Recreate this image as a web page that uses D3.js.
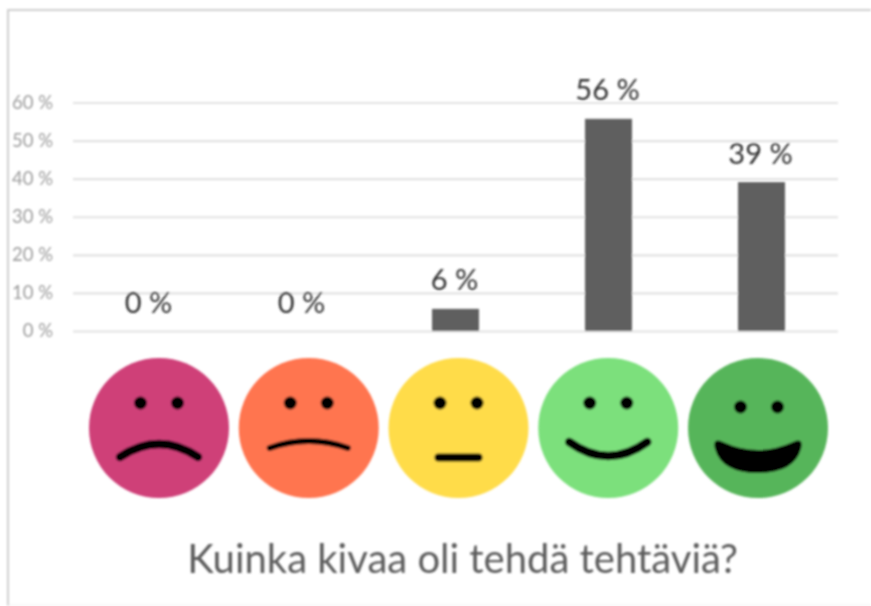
<!DOCTYPE html>
<html>
<head>
<meta charset="utf-8">
<script src="https://cdn.jsdelivr.net/npm/d3@7"></script>
<style>
  html, body { margin: 0; padding: 0; background: #fff; }
  svg { display: block; }
  text { font-family: Lato, "Open Sans", sans-serif; }
</style>
</head>
<body>
<div id="chart"></div>
<script>
// values
const categories = ["a", "b", "c", "d", "e"];
const values = [0, 0, 5.8, 55.7, 39.1];
const valueLabels = ["0 %", "0 %", "6 %", "56 %", "39 %"];
const yTicks = [0, 10, 20, 30, 40, 50, 60];
const faceColors = ["#cf3f78", "#ff7550", "#ffdc4a", "#7be07c", "#57b55a"];
const mouthBend = [-26, -14, 0, 28, 28];
const title = "Kuinka kivaa oli tehdä tehtäviä?";

const w = 871, h = 606;

const svg = d3.select("#chart").append("svg")
  .attr("width", w)
  .attr("height", h);

// the source is a soft, upscaled screenshot
const blur = svg.append("defs").append("filter").attr("id", "soft");
blur.append("feGaussianBlur").attr("stdDeviation", 0.8);

const g = svg.append("g").attr("filter", "url(#soft)");

// frame
g.append("path")
  .attr("d", "M8,606V10H871")
  .attr("fill", "none")
  .attr("stroke", "#cfcfcf")
  .attr("stroke-width", 2);
g.append("line")
  .attr("x1", 8).attr("x2", 871)
  .attr("y1", 605).attr("y2", 605)
  .attr("stroke", "#f0f0f0");

const x = d3.scaleBand().domain(categories).range([73, 838]);
const y = d3.scaleLinear().domain([0, 60]).range([331, 102.5]);

const yAxis = d3.axisLeft(y)
  .tickValues(yTicks)
  .tickSize(-(838 - 73))
  .tickPadding(20)
  .tickFormat(d => d + " %");

const axis = g.append("g")
  .attr("transform", "translate(73,0)")
  .call(yAxis);
axis.select(".domain").remove();
axis.selectAll(".tick line")
  .attr("stroke", "#e2e2e2")
  .attr("stroke-width", 2.2);
axis.selectAll(".tick text")
  .attr("x", -20)
  .attr("fill", "#9c9c9c")
  .attr("font-size", 18.5)
  .style("font-family", "Lato, sans-serif");

const barW = 47;
g.selectAll(".bar")
  .data(values)
  .enter()
  .append("rect")
  .attr("class", "bar")
  .attr("x", (d, i) => x(categories[i]) + x.bandwidth() / 2 - barW / 2)
  .attr("y", d => y(d))
  .attr("width", barW)
  .attr("height", d => y(0) - y(d))
  .attr("fill", "#5f5f5f");

g.selectAll(".valueLabel")
  .data(values)
  .enter()
  .append("text")
  .attr("class", "valueLabel")
  .text((d, i) => valueLabels[i])
  .attr("x", (d, i) => x(categories[i]) + x.bandwidth() / 2 - 1)
  .attr("y", d => y(d) - 18.5)
  .attr("text-anchor", "middle")
  .attr("fill", "#333")
  .attr("font-size", 29);

// faces sit on their own, slightly wider row than the bars
const faceX = d3.scalePoint().domain(categories).range([159, 758]);
const faceY = 428, faceR = 70;

const faces = g.selectAll(".face")
  .data(categories)
  .enter()
  .append("g")
  .attr("class", "face")
  .attr("transform", d => "translate(" + faceX(d) + "," + faceY + ")");

faces.append("circle")
  .attr("r", faceR)
  .attr("fill", (d, i) => faceColors[i]);

// eyes
faces.each(function(d, i) {
  const eyeY = i === 4 ? -21 : -25;
  d3.select(this).selectAll(".eye")
    .data([-18.5, 18.5])
    .enter()
    .append("circle")
    .attr("class", "eye")
    .attr("cx", e => e + (i === 4 ? 1 : 0))
    .attr("cy", eyeY)
    .attr("r", 6.5)
    .attr("fill", "#000");
});

// mouths
faces.append("path")
  .attr("d", (d, i) => {
    const bend = mouthBend[i];
    const p = d3.path();
    if (i === 4) {
      p.moveTo(-35, 14);
      p.quadraticCurveTo(0, 30, 35, 14);
      p.quadraticCurveTo(46, 9, 43, 21);
      p.quadraticCurveTo(36, 45, 0, 45);
      p.quadraticCurveTo(-36, 45, -43, 21);
      p.quadraticCurveTo(-46, 9, -35, 14);
      p.closePath();
      return p.toString();
    }
    const halfW = i === 2 ? 20 : 39;
    const my = [29, 20, 29.5, 14][i];
    p.moveTo(-halfW, my);
    p.quadraticCurveTo(0, my + bend, halfW, my);
    return p.toString();
  })
  .attr("fill", (d, i) => i === 4 ? "#000" : "none")
  .attr("stroke", (d, i) => i === 4 ? "none" : "#000")
  .attr("stroke-width", (d, i) => [8.5, 6, 8, 8.5][i] || 0)
  .attr("stroke-linecap", "round");

g.append("text")
  .text(title)
  .attr("x", 462.5)
  .attr("y", 573)
  .attr("text-anchor", "middle")
  .attr("fill", "#5d5d5d")
  .attr("font-size", 40);
</script>
</body>
</html>
